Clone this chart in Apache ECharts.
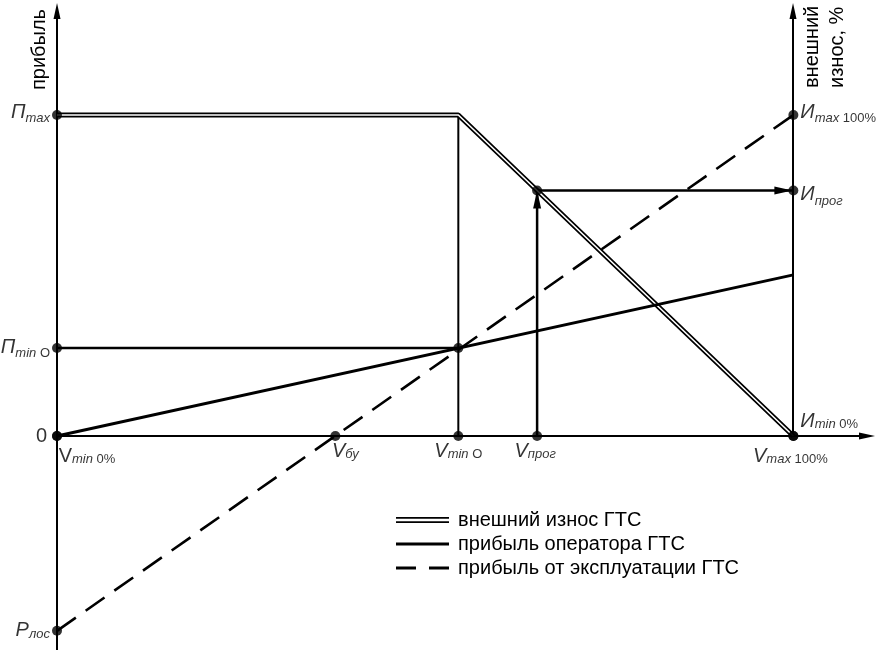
<!DOCTYPE html>
<html>
<head>
<meta charset="utf-8">
<script src="https://cdn.jsdelivr.net/npm/echarts@6/dist/echarts.min.js"></script>
<style>
html, body { margin: 0; padding: 0; background: #fff; }
#chart { width: 876px; height: 650px; }
</style>
</head>
<body>
<div id="chart"></div>
<script>
// объём V: Vmin 0% = 0 ... Vmax 100% = 100
const vValues = [0, 37.8, 54.5, 65.2, 100];
const vLabels = ['{v|V}{s|min }{u|0%}', '{m|V}{s|бу}', '{m|V}{s|min }{u|O}', '{m|V}{s|прог}', '{m|V}{s|max }{u|100%}'];
// прибыль (левая ось), Пmax = 100
const profitValues = [100, 27.4, 0, -60.7];
const profitLabels = ['{h|П}{s|max}', '{h|П}{s|min }{u|O}', '{n|0}', '{m|Р}{s|лос}'];
// внешний износ (правая ось), та же шкала
const wearValues = [100, 76.5, 0];
const wearLabels = ['{h|И}{s|max }{u|100%}', '{h|И}{s|прог}', '{m|И}{s|min }{u|0%}'];

const seriesNames = ['внешний износ ГТС', 'прибыль оператора ГТС', 'прибыль от эксплуатации ГТС'];
const wearLine = [[0, 100], [54.5, 100], [100, 0]];
const operatorLine = [[0, 0], [100, 50.2]];
const operatorMinLine = [[0, 27.4], [54.5, 27.4]];
const exploitLine = [[0, -60.7], [100, 100]];
const extraDots = [[65.2, 76.5], [54.5, 27.4]];

const FONT = '"Liberation Sans", Arial, sans-serif';
const arrowPath = 'path://M0,0L4,16L-4,16Z';

let chart = echarts.init(document.getElementById('chart'));

// подписи точек
let dots = [];
let leftLayout = [
  { distance: 2 }, { distance: 2, offset: [0, 2] }, { distance: 5 }, { distance: 2 }
];
profitValues.forEach(function(y, i){
  dots.push({ value: [0, y], label: Object.assign({ show: true, position: 'left', formatter: profitLabels[i] }, leftLayout[i]) });
});
let rightLayout = [
  { distance: 2 }, { distance: 2, offset: [0, 7] }, { distance: 2, offset: [0, -15] }
];
wearValues.forEach(function(y, i){
  dots.push({ value: [100, y], label: Object.assign({ show: true, position: 'right', formatter: wearLabels[i] }, rightLayout[i]) });
});
let bottomOffsets = [[30, 5], [10, 0], [0, 0], [-2, 0], [-3, 5]];
vValues.forEach(function(x, i){
  dots.push({ value: [x, 0], label: { show: true, position: 'bottom', distance: 0, offset: bottomOffsets[i], formatter: vLabels[i] } });
});
extraDots.forEach(function(p){ dots.push({ value: p }); });

let axisArrow = {
  show: true,
  onZero: true,
  symbol: ['none', 'triangle'],
  symbolSize: [7, 16],
  lineStyle: { color: '#000', width: 2 }
};
let hidden = { axisTick: { show: false }, axisLabel: { show: false }, splitLine: { show: false } };

let main = { fontFamily: FONT, fontSize: 20, fontStyle: 'italic', color: '#000', lineHeight: 20, verticalAlign: 'bottom' };

let option = {
  animation: false,
  backgroundColor: '#fff',
  color: ['#000'],
  textStyle: { fontFamily: FONT, color: '#000' },
  grid: [
    { left: 57, right: 9, top: 11, bottom: 0 },
    { left: 793, right: 82, top: 11, bottom: 214 }
  ],
  xAxis: [
    Object.assign({ type: 'value', gridIndex: 0, min: 0, max: 110, axisLine: axisArrow }, hidden),
    Object.assign({ type: 'value', gridIndex: 1, min: 0, max: 1, show: false }, hidden)
  ],
  yAxis: [
    Object.assign({ type: 'value', gridIndex: 0, min: -66.67, max: 132.4, axisLine: axisArrow }, hidden),
    Object.assign({ type: 'value', gridIndex: 1, min: 0, max: 132.4, position: 'left', axisLine: axisArrow }, hidden)
  ],
  legend: {
    left: 396,
    top: 510,
    padding: 0,
    orient: 'vertical',
    selectedMode: false,
    itemWidth: 53,
    itemHeight: 6,
    itemGap: 4,
    itemStyle: { color: '#000', borderWidth: 0 },
    textStyle: { fontFamily: FONT, fontSize: 20, color: '#000', lineHeight: 18, padding: [0, 0, 0, 4] },
    data: [
      { name: seriesNames[0], icon: 'path://M0,0H53V1.7H0ZM0,4.3H53V6H0Z' },
      { name: seriesNames[1], icon: 'path://M0,0H53V3H0Z' },
      { name: seriesNames[2], icon: 'path://M0,0H20V3H0ZM33,0H53V3H33Z' }
    ]
  },
  graphic: [
    { type: 'text', x: 39, y: 90, rotation: Math.PI / 2,
      style: { text: 'прибыль', font: '20px ' + FONT, fill: '#000', textAlign: 'left', textVerticalAlign: 'middle', align: 'left', verticalAlign: 'middle' } },
    { type: 'text', x: 812, y: 88, rotation: Math.PI / 2,
      style: { text: 'внешний', font: '20px ' + FONT, fill: '#000', textAlign: 'left', textVerticalAlign: 'middle', align: 'left', verticalAlign: 'middle' } },
    { type: 'text', x: 837, y: 88, rotation: Math.PI / 2,
      style: { text: 'износ, %', font: '20px ' + FONT, fill: '#000', textAlign: 'left', textVerticalAlign: 'middle', align: 'left', verticalAlign: 'middle' } }
  ],
  series: [
    {
      name: seriesNames[0],
      type: 'line',
      data: wearLine,
      symbol: 'none',
      z: 3,
      itemStyle: { color: '#000' },
      lineStyle: { color: '#000', width: 5 }
    },
    {
      name: 'wear-inner',
      type: 'line',
      data: wearLine,
      symbol: 'none',
      z: 4,
      lineStyle: { color: '#fff', width: 1.6 }
    },
    {
      name: seriesNames[1],
      type: 'line',
      data: operatorLine,
      symbol: 'none',
      z: 5,
      itemStyle: { color: '#000' },
      lineStyle: { color: '#000', width: 3 }
    },
    {
      name: 'operator-min',
      type: 'line',
      data: operatorMinLine,
      symbol: 'none',
      z: 2,
      lineStyle: { color: '#000', width: 2.5 }
    },
    {
      name: seriesNames[2],
      type: 'line',
      data: exploitLine,
      symbol: 'none',
      z: 5,
      itemStyle: { color: '#000' },
      lineStyle: { color: '#000', width: 2.6, type: [23, 12] }
    },
    {
      name: 'vmin-o',
      type: 'line',
      data: [[vValues[2], 0], [vValues[2], profitValues[0]]],
      symbol: 'none',
      z: 2,
      lineStyle: { color: '#000', width: 2 }
    },
    {
      name: 'prog-up',
      type: 'line',
      data: [{ value: [vValues[3], 0], symbol: 'none' }, { value: [vValues[3], wearValues[1]], symbolOffset: [0, 9] }],
      symbol: arrowPath,
      symbolSize: [8, 18],
      symbolKeepAspect: false,
      z: 2,
      itemStyle: { color: '#000' },
      lineStyle: { color: '#000', width: 2.5 }
    },
    {
      name: 'prog-right',
      type: 'line',
      data: [{ value: [vValues[3], wearValues[1]], symbol: 'none' }, { value: [vValues[4], wearValues[1]], symbolRotate: -90, symbolOffset: [-10, 0] }],
      symbol: arrowPath,
      symbolSize: [8, 18],
      symbolKeepAspect: false,
      z: 2,
      itemStyle: { color: '#000' },
      lineStyle: { color: '#000', width: 2.5 }
    },
    {
      name: 'dots',
      type: 'scatter',
      data: dots,
      symbol: 'circle',
      symbolSize: 10,
      z: 10,
      itemStyle: { color: '#000' },
      label: {
        color: '#000',
        fontFamily: FONT,
        rich: {
          m: main,
          h: Object.assign({}, main, { padding: [0, 0, 3, 0] }),
          v: Object.assign({}, main, { fontStyle: 'normal' }),
          s: { fontFamily: FONT, fontSize: 13, fontStyle: 'italic', color: '#000', lineHeight: 13, verticalAlign: 'bottom' },
          u: { fontFamily: FONT, fontSize: 13, color: '#000', lineHeight: 13, verticalAlign: 'bottom' },
          n: { fontFamily: FONT, fontSize: 20, color: '#000', lineHeight: 20 }
        }
      }
    }
  ]
};
chart.setOption(option);
</script>
</body>
</html>
